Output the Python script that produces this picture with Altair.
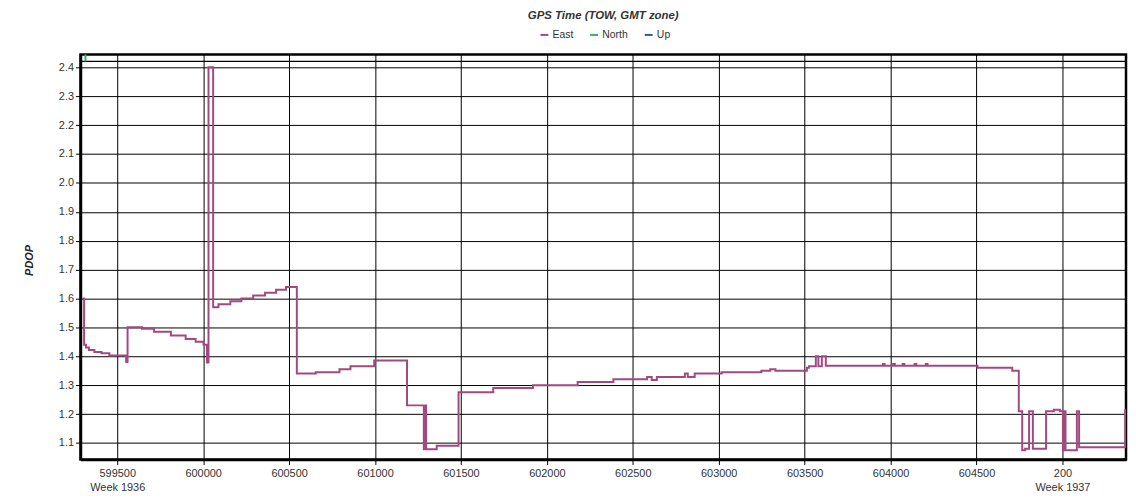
import altair as alt
import pandas as pd

# ---- data (TOW seconds, PDOP) ----
east_t = [599298, 599307, 599318, 599335, 599367, 599408, 599454, 599552, 599560,
          599644, 599714, 599812, 599898, 599956, 600002, 600022, 600031, 600058,
          600089, 600158, 600222, 600291, 600360, 600424, 600482, 600545, 600655,
          600793, 600857, 600995, 601186, 601284, 601291, 601297, 601359, 601486,
          601688, 601919, 602179, 602387, 602583, 602610, 602640, 602803, 602820,
          602860, 603017, 603248, 603300, 603330, 603513, 603525, 603565, 603580,
          603600, 603623, 603955, 603965, 604015, 604025, 604070, 604080, 604140,
          604150, 604205, 604215, 604506, 604708, 604746, 604766, 604783, 604806,
          604828, 604905, 604950, 604985, 605003, 605012, 605018, 605084, 605097,
          605365, 605370]
east_v = [1.600, 1.440, 1.430, 1.422, 1.415, 1.410, 1.403, 1.380, 1.500,
          1.495, 1.485, 1.472, 1.460, 1.450, 1.440, 1.378, 2.400, 1.570,
          1.580, 1.590, 1.600, 1.610, 1.620, 1.630, 1.640, 1.340, 1.345,
          1.355, 1.365, 1.385, 1.230, 1.078, 1.230, 1.078, 1.090, 1.275,
          1.290, 1.300, 1.311, 1.320, 1.328, 1.318, 1.328, 1.340, 1.328,
          1.340, 1.345, 1.350, 1.355, 1.350, 1.360, 1.365, 1.400, 1.365,
          1.400, 1.367, 1.373, 1.367, 1.373, 1.367, 1.373, 1.367, 1.373,
          1.367, 1.373, 1.367, 1.360, 1.350, 1.210, 1.075, 1.080, 1.210,
          1.080, 1.210, 1.215, 1.210, 1.075, 1.210, 1.075, 1.210, 1.085,
          1.215, 1.215]

north_marker_t = [599315]

series_names = ["East", "North", "Up"]
series_colors = ["#a24a80", "#3cae6a", "#2f5a86"]

x_ticks = [599500, 600000, 600500, 601000, 601500, 602000, 602500,
           603000, 603500, 604000, 604500, 605000]
y_ticks = [1.1, 1.2, 1.3, 1.4, 1.5, 1.6, 1.7, 1.8, 1.9, 2.0, 2.1, 2.2, 2.3, 2.4]

FONT = "Liberation Sans"

df = pd.DataFrame({"t": east_t, "v": east_v, "series": ["East"] * len(east_t)})
north_df = pd.DataFrame({"t": north_marker_t})

x_scale = alt.Scale(domain=[599286, 605370], nice=False, zero=False)
y_scale = alt.Scale(domain=[1.0426, 2.4447], nice=False, zero=False)

label_expr = ("datum.value == 599500 ? ['599500', 'Week 1936'] : "
              "(datum.value >= 604800 ? [format(datum.value - 604800, 'd'), 'Week 1937'] : "
              "format(datum.value, 'd'))")

x_axis = alt.Axis(values=x_ticks, tickCount=40, labelExpr=label_expr, title=None, grid=True,
                  gridColor="black", gridWidth=1, gridOpacity=1,
                  domainColor="black", domainWidth=2.5, tickColor="black",
                  tickSize=5, labelPadding=3, labelLineHeight=14,
                  labelFont=FONT, labelFontSize=11, labelColor="#333",
                  labelFlush=False, labelOverlap=False)
y_axis = alt.Axis(values=y_ticks, tickCount=40, format=".1f", title="PDOP", grid=True,
                  gridColor="black", gridWidth=1, gridOpacity=1,
                  domainColor="black", domainWidth=2.5, tickColor="black",
                  tickSize=5, labelPadding=2, labelFont=FONT, labelFontSize=11,
                  labelColor="#333", labelOverlap=False, labelFlush=False,
                  titleFont=FONT, titleFontSize=11,
                  titleFontStyle="italic", titleFontWeight="bold", titleColor="#222",
                  titleX=-51, titleY=207, titleAngle=270, titleAlign="center",
                  titleBaseline="middle")

line = alt.Chart(df).mark_line(interpolate="step-after", strokeWidth=2, clip=True).encode(
    x=alt.X("t:Q", scale=x_scale, axis=x_axis),
    y=alt.Y("v:Q", scale=y_scale, axis=y_axis),
    color=alt.Color("series:N",
                    scale=alt.Scale(domain=series_names, range=series_colors),
                    legend=alt.Legend(title=None, orient="none", legendX=462, legendY=-25,
                                      direction="horizontal", symbolType="stroke",
                                      symbolStrokeWidth=2, symbolSize=64,
                                      labelFont=FONT, labelFontSize=10.5, labelColor="#333",
                                      columnPadding=12, labelOffset=3)),
)

top_rule = alt.Chart(north_df).mark_rule(color="black", strokeWidth=1.5).encode(
    y=alt.datum(2.4206),
)

north_tick = alt.Chart(north_df).mark_rule(color="#3cae6a", strokeWidth=2).encode(
    x=alt.X("t:Q"),
    y=alt.datum(2.4206),
    y2=alt.datum(2.4447),
)

chart = alt.layer(line, top_rule, north_tick).properties(
    width=1053,
    height=408,
    autosize=alt.AutoSizeParams(type="none"),
    padding={"left": 73, "top": 45, "right": 2, "bottom": 34},
    title=alt.TitleParams("GPS Time (TOW, GMT zone)", font=FONT, fontSize=11.5,
                          fontStyle="italic", fontWeight="bold", color="#333",
                          anchor="middle", offset=8),
).configure_view(stroke="black", strokeWidth=2.5)

chart.save("out.html", embed_options={"renderer": "svg", "actions": False})
